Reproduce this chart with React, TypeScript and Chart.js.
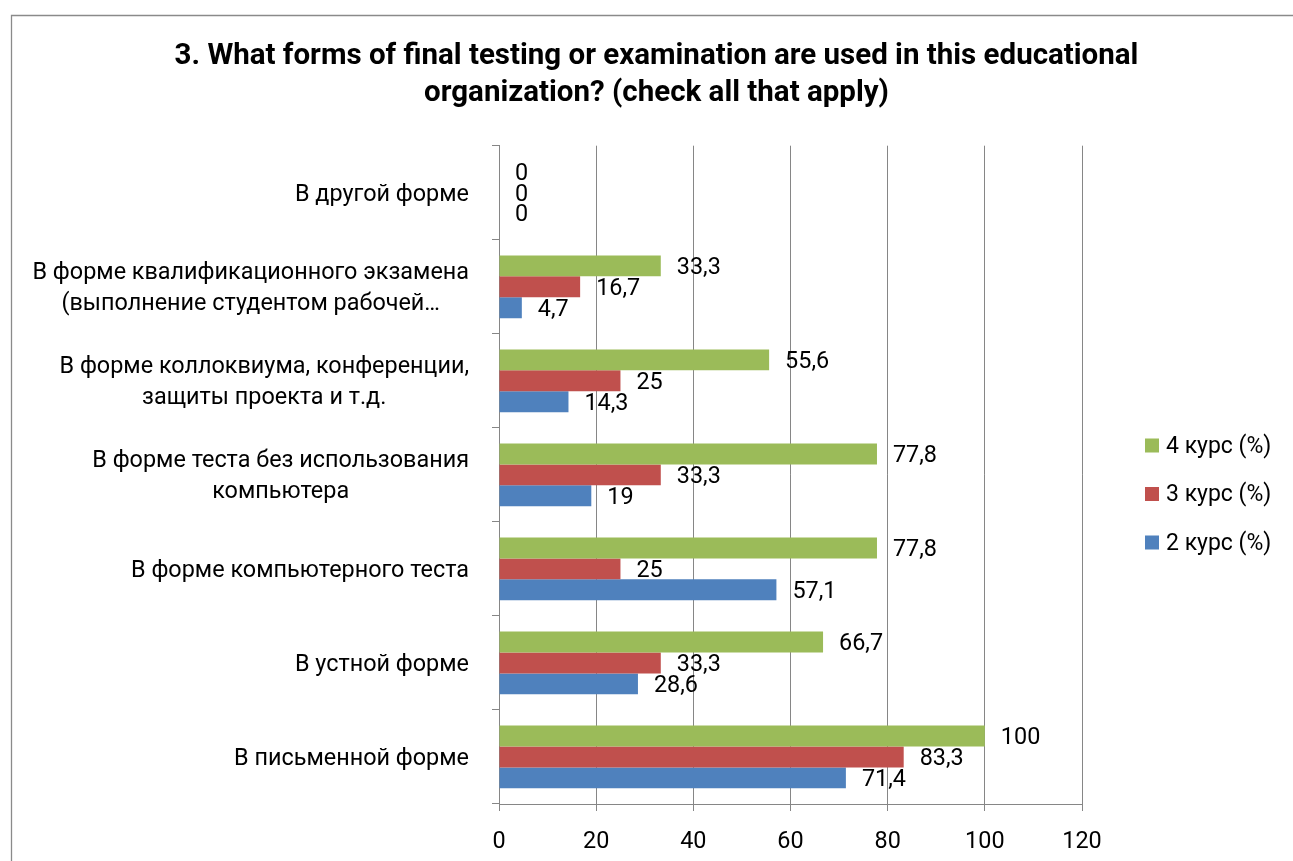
import React, { useEffect, useRef } from "react";
import { Chart, registerables } from "chart.js";

Chart.register(...registerables);

// ---------- data ----------
const categories: (string | string[])[] = [
  "В другой форме",
  ["В форме квалификационного экзамена", "(выполнение студентом рабочей…"],
  ["В форме коллоквиума, конференции,", "защиты проекта и т.д."],
  ["В форме теста без использования", "компьютера"],
  "В форме компьютерного теста",
  "В устной форме",
  "В письменной форме",
];
const seriesLabels = ["4 курс (%)", "3 курс (%)", "2 курс (%)"];
const course4 = [0, 33.3, 55.6, 77.8, 77.8, 66.7, 100];
const course3 = [0, 16.7, 25, 33.3, 25, 33.3, 83.3];
const course2 = [0, 4.7, 14.3, 19, 57.1, 28.6, 71.4];
const seriesColors = ["#9BBB59", "#C0504D", "#4F81BD"];
const xMin = 0;
const xMax = 120;
const xStep = 20;
const titleLines = [
  "3. What forms of final testing or examination are used in this educational",
  "organization? (check all that apply)",
];

// ---------- style ----------
const FONT = "Roboto";
const GRID = "#868686";
const W = 1293;
const H = 861;
const PAD_L = 160;
const PAD_R = 140;

const fmt = (v: number) => String(v).replace(".", ",");

const framePlugin = {
  id: "frame",
  beforeDraw(chart: any) {
    const ctx = chart.ctx;
    ctx.save();
    ctx.fillStyle = "#ffffff";
    ctx.fillRect(0, 0, chart.width, chart.height);
    ctx.strokeStyle = "#8a8a8a";
    ctx.lineWidth = 1.3;
    ctx.beginPath();
    ctx.moveTo(11.5, chart.height);
    ctx.lineTo(11.5, 15.5);
    ctx.lineTo(chart.width, 15.5);
    ctx.stroke();
    ctx.restore();
  },
};

const yLabelPlugin = {
  id: "yLabels",
  afterDraw(chart: any) {
    const ctx = chart.ctx;
    const scale = chart.scales.y;
    const labels = chart.data.labels as (string | string[])[];
    const lineH = 31.5;
    const rightEdge = 469;
    ctx.save();
    ctx.font = `23.4px ${FONT}`;
    ctx.fillStyle = "#000";
    ctx.textAlign = "center";
    ctx.textBaseline = "middle";
    labels.forEach((lab, i) => {
      const lines = Array.isArray(lab) ? lab : [lab];
      const maxW = Math.max(...lines.map((l) => ctx.measureText(l).width));
      const cx = rightEdge - maxW / 2;
      const cy = scale.getPixelForValue(i) + 2;
      lines.forEach((l, k) => {
        ctx.fillText(l, cx, cy + (k - (lines.length - 1) / 2) * lineH);
      });
    });
    ctx.restore();
  },
};

const dataLabelPlugin = {
  id: "dataLabels",
  afterDatasetsDraw(chart: any) {
    const ctx = chart.ctx;
    ctx.save();
    ctx.font = `23.4px ${FONT}`;
    ctx.fillStyle = "#000";
    ctx.textAlign = "left";
    ctx.textBaseline = "middle";
    chart.data.datasets.forEach((ds: any, d: number) => {
      const meta = chart.getDatasetMeta(d);
      meta.data.forEach((el: any, i: number) => {
        ctx.fillText(fmt(ds.data[i]), el.x + 16, el.y + 2);
      });
    });
    ctx.restore();
  },
};

const legendPlugin = {
  id: "customLegend",
  afterDraw(chart: any) {
    const ctx = chart.ctx;
    const boxX = 1145;
    const firstY = 445.5;
    const step = 48.5;
    const box = 14;
    ctx.save();
    ctx.font = `23px ${FONT}`;
    ctx.textAlign = "left";
    ctx.textBaseline = "middle";
    chart.data.datasets.forEach((ds: any, d: number) => {
      const cy = firstY + d * step;
      ctx.fillStyle = ds.backgroundColor;
      ctx.fillRect(boxX, cy - box / 2, box, box);
      ctx.fillStyle = "#000";
      ctx.fillText(ds.label, boxX + box + 7, cy + 1.5);
    });
    ctx.restore();
  },
};

export default function App() {
  const ref = useRef<HTMLCanvasElement | null>(null);

  useEffect(() => {
    if (!ref.current) return;
    const seriesData = [course4, course3, course2];
    const chart = new Chart(ref.current, {
      type: "bar",
      data: {
        labels: categories as any,
        datasets: seriesLabels.map((label, i) => ({
          label,
          data: seriesData[i],
          backgroundColor: seriesColors[i],
          borderWidth: 0,
          categoryPercentage: 0.667,
          barPercentage: 1.0,
        })),
      },
      options: {
        indexAxis: "y",
        responsive: false,
        animation: false,
        devicePixelRatio: 1,
        layout: { padding: { left: PAD_L, right: PAD_R, top: 0, bottom: 0 } },
        plugins: {
          legend: { display: false },
          tooltip: { enabled: false },
          title: {
            display: true,
            text: titleLines,
            color: "#000",
            font: { family: FONT, size: 29.5, weight: "bold", lineHeight: 37 / 29.5 },
            padding: { top: 38.5, bottom: 33.2 },
          },
        },
        scales: {
          x: {
            type: "linear",
            position: "bottom",
            min: xMin,
            max: xMax,
            ticks: {
              stepSize: xStep,
              color: "#000",
              font: { family: FONT, size: 23.4 },
              padding: 17,
            },
            grid: {
              color: GRID,
              lineWidth: 1,
              drawTicks: true,
              tickLength: 7,
              tickColor: GRID,
            },
            border: { display: true, color: GRID, width: 1 },
            afterFit(scale: any) {
              scale.height = 57;
            },
          },
          y: {
            type: "category",
            position: "left",
            ticks: { display: false },
            grid: {
              display: true,
              drawOnChartArea: false,
              drawTicks: true,
              tickLength: 7,
              offset: true,
              color: GRID,
              tickColor: GRID,
            },
            border: { display: true, color: GRID, width: 1 },
            afterFit(scale: any) {
              scale.width = 499 - PAD_L;
            },
          },
          legendSpace: {
            type: "category",
            position: "right",
            display: true,
            ticks: { display: false },
            grid: { display: false, drawTicks: false },
            border: { display: false },
            afterFit(scale: any) {
              scale.width = W - PAD_R - 1082;
            },
          },
        },
      },
      plugins: [framePlugin, dataLabelPlugin, yLabelPlugin, legendPlugin],
    });
    return () => chart.destroy();
  }, []);

  return (
    <div style={{ position: "fixed", left: 0, top: 0, width: W, height: H, background: "#fff" }}>
      <canvas ref={ref} width={W} height={H} style={{ width: W, height: H, display: "block" }} />
    </div>
  );
}
